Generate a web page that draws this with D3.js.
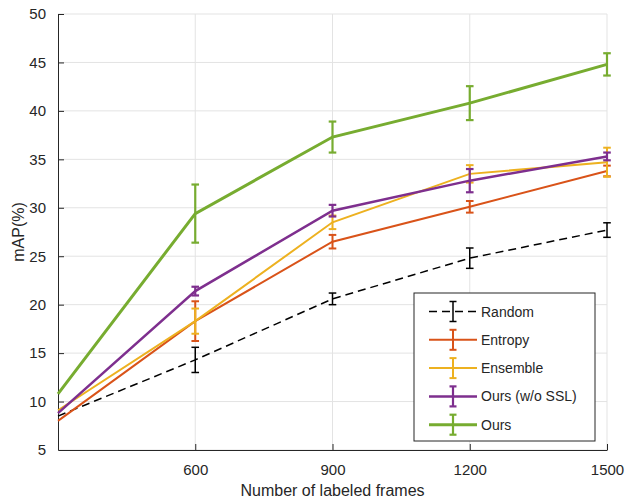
<!DOCTYPE html>
<html>
<head>
<meta charset="utf-8">
<script src="https://cdn.jsdelivr.net/npm/d3@7"></script>
<style>
  body { margin: 0; background: #fff; }
  text { font-family: "Liberation Sans", Arial, sans-serif; fill: #262626; }
</style>
</head>
<body>
<svg id="chart" width="626" height="500"></svg>
<script>
// labeled frames on x
const frames = [300, 600, 900, 1200, 1500]
const xTicks = [600, 900, 1200, 1500]
const yTicks = [5, 10, 15, 20, 25, 30, 35, 40, 45, 50]

const seriesNames = ['Random', 'Entropy', 'Ensemble', 'Ours (w/o SSL)', 'Ours']
const randomMean = [8.5, 14.3, 20.6, 24.8, 27.7]
const randomErr = [0, 1.3, 0.6, 1.05, 0.75]
const entropyMean = [8.0, 18.3, 26.5, 30.1, 33.8]
const entropyErr = [0, 2.05, 0.7, 0.6, 0.55]
const ensembleMean = [9.1, 18.3, 28.5, 33.5, 34.7]
const ensembleErr = [0, 1.3, 0.7, 0.9, 1.5]
const noSslMean = [8.8, 21.4, 29.7, 32.8, 35.3]
const noSslErr = [0, 0.45, 0.6, 1.2, 0.4]
const oursMean = [10.8, 29.4, 37.3, 40.8, 44.8]
const oursErr = [0, 3.0, 1.6, 1.75, 1.15]

const colors = ['#000000', '#D95319', '#EDB120', '#7E2F8E', '#77AC30']
const widths = [1.5, 2, 2, 2.5, 3]

let series = [
  {mean: randomMean, err: randomErr},
  {mean: entropyMean, err: entropyErr},
  {mean: ensembleMean, err: ensembleErr},
  {mean: noSslMean, err: noSslErr},
  {mean: oursMean, err: oursErr}
].map((s, i) => ({...s, name: seriesNames[i], color: colors[i], width: widths[i], dash: i == 0 ? '8,5' : null}))

let dimensions = {
  width: 626,
  height: 500,
  margin: {top: 14, bottom: 50, left: 58, right: 19}
}

let svg = d3.select('#chart')

let xScale = d3.scaleLinear()
  .domain([300, 1500])
  .range([dimensions.margin.left, dimensions.width - dimensions.margin.right])
let yScale = d3.scaleLinear()
  .domain([5, 50])
  .range([dimensions.height - dimensions.margin.bottom, dimensions.margin.top])

let x0 = xScale.range()[0], x1 = xScale.range()[1]
let y0 = yScale.range()[0], y1 = yScale.range()[1]

// grid
let grid = svg.append('g')
grid.selectAll('.hg').data(yTicks).enter().append('line')
  .attr('x1', x0).attr('x2', x1)
  .attr('y1', d => yScale(d)).attr('y2', d => yScale(d))
  .attr('stroke', '#e3e3e3').attr('stroke-width', 1)
grid.selectAll('.vg').data(xTicks).enter().append('line')
  .attr('x1', d => xScale(d)).attr('x2', d => xScale(d))
  .attr('y1', y0).attr('y2', y1)
  .attr('stroke', '#e3e3e3').attr('stroke-width', 1)

// axes
let xAxisgen = d3.axisBottom(xScale).tickValues(xTicks).tickFormat(d3.format('d'))
  .tickSizeInner(-6).tickSizeOuter(0).tickPadding(14)
let yAxisgen = d3.axisLeft(yScale).tickValues(yTicks).tickFormat(d3.format('d'))
  .tickSizeInner(-6).tickSizeOuter(0).tickPadding(12)

let xAxis = svg.append('g')
  .attr('transform', `translate(0,${y0})`)
  .call(xAxisgen)
let yAxis = svg.append('g')
  .attr('transform', `translate(${x0},0)`)
  .call(yAxisgen)
;[xAxis, yAxis].forEach(a => {
  a.select('.domain').attr('stroke', '#262626').attr('stroke-width', 1)
  a.selectAll('.tick line').attr('stroke', '#262626')
  a.selectAll('.tick text').style('font-size', '15px').attr('fill', '#262626')
})
yAxis.select('.tick line').remove()

svg.append('text')
  .attr('x', (x0 + x1) / 2)
  .attr('y', 496)
  .attr('text-anchor', 'middle')
  .style('font-size', '16px')
  .text('Number of labeled frames')
svg.append('text')
  .attr('transform', `translate(24,${(y0 + y1) / 2}) rotate(-90)`)
  .attr('text-anchor', 'middle')
  .style('font-size', '16px')
  .text('mAP(%)')

// lines + error bars
let line = d3.line().x((d, i) => xScale(frames[i])).y(d => yScale(d))
series.forEach(s => {
  let g = svg.append('g')
  g.append('path')
    .attr('d', line(s.mean))
    .attr('fill', 'none')
    .attr('stroke', s.color)
    .attr('stroke-width', s.width)
    .attr('stroke-dasharray', s.dash)
  let pts = s.mean.map((m, i) => ({x: frames[i], m: m, e: s.err[i]})).filter(p => p.e > 0)
  let cap = 3.8
  let eb = g.selectAll('.eb').data(pts).enter().append('g')
  let ebw = Math.min(s.width, 2.2)
  eb.append('line')
    .attr('x1', d => xScale(d.x)).attr('x2', d => xScale(d.x))
    .attr('y1', d => yScale(d.m - d.e)).attr('y2', d => yScale(d.m + d.e))
    .attr('stroke', s.color).attr('stroke-width', ebw)
  ;['lo', 'hi'].forEach(k => {
    eb.append('line')
      .attr('x1', d => xScale(d.x) - cap).attr('x2', d => xScale(d.x) + cap)
      .attr('y1', d => yScale(k == 'lo' ? d.m - d.e : d.m + d.e))
      .attr('y2', d => yScale(k == 'lo' ? d.m - d.e : d.m + d.e))
      .attr('stroke', s.color).attr('stroke-width', ebw)
  })
})

// legend
let legend = svg.append('g').attr('transform', 'translate(414,293)')
legend.append('rect')
  .attr('width', 181).attr('height', 148)
  .attr('fill', '#fff').attr('stroke', '#262626').attr('stroke-width', 1)
let items = legend.selectAll('.item').data(series).enter().append('g')
  .attr('transform', (d, i) => `translate(0,${18.5 + i * 28.3})`)
items.append('line')
  .attr('x1', 15).attr('x2', 63).attr('y1', 0).attr('y2', 0)
  .attr('stroke', d => d.color).attr('stroke-width', d => d.width)
  .attr('stroke-dasharray', d => d.dash)
items.append('line')
  .attr('x1', 39).attr('x2', 39).attr('y1', -10).attr('y2', 10)
  .attr('stroke', d => d.color).attr('stroke-width', d => Math.min(d.width, 2.2))
items.append('line')
  .attr('x1', 35.5).attr('x2', 42.5).attr('y1', -10).attr('y2', -10)
  .attr('stroke', d => d.color).attr('stroke-width', d => Math.min(d.width, 2.2))
items.append('line')
  .attr('x1', 35.5).attr('x2', 42.5).attr('y1', 10).attr('y2', 10)
  .attr('stroke', d => d.color).attr('stroke-width', d => Math.min(d.width, 2.2))
items.append('text')
  .attr('x', 67).attr('y', 5)
  .style('font-size', '14px')
  .text(d => d.name)
</script>
</body>
</html>
